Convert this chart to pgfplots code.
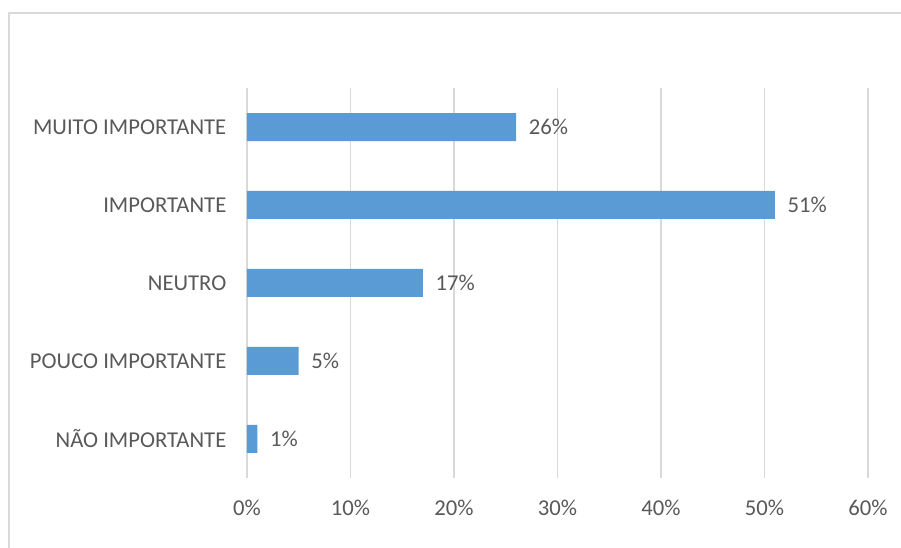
\documentclass[border=0pt]{standalone}
\usepackage{pgfplots}
\pgfplotsset{compat=1.18}
\usepackage{fontspec}
\setmainfont{Carlito}
\definecolor{barblue}{HTML}{5B9BD5}
\definecolor{gridgray}{HTML}{D9D9D9}
\definecolor{textgray}{HTML}{595959}
\definecolor{framegray}{HTML}{D9D9D9}
\begin{document}
\begin{tikzpicture}
  % canvas (1 px = 0.75pt) and chart frame
  \useasboundingbox (0,0) rectangle (675.75pt,-411pt);
  \draw[framegray, line width=1.8pt] (6.75pt,-420pt) -- (6.75pt,-9.75pt) -- (685pt,-9.75pt);
  \begin{axis}[
    at={(185.25pt,-358.5pt)}, anchor=south west,
    scale only axis,
    width=465.75pt, height=292.5pt,
    xbar, bar width=21pt,
    xmin=0, xmax=60,
    ymin=-0.5, ymax=4.5,
    xtick={0,10,...,60},
    xticklabel={\pgfmathprintnumber{\tick}\%},
    ytick={0,1,2,3,4},
    yticklabels={NÃO IMPORTANTE, POUCO IMPORTANTE, NEUTRO, IMPORTANTE, MUITO IMPORTANTE},
    axis line style={draw=none},
    major tick length=0pt,
    xmajorgrids, grid style={gridgray, line width=0.9pt},
    ymajorgrids=false,
    /pgf/number format/assume math mode=true,
    tick label style={font=\fontsize{17}{20}\selectfont, text=textgray},
    yticklabel style={xshift=-12pt},
    xticklabel style={yshift=-13pt},
    nodes near coords={\pgfmathprintnumber{\pgfplotspointmeta}\%},
    nodes near coords style={font=\fontsize{17}{20}\selectfont, text=textgray, anchor=west, xshift=6pt},
    point meta=x,
    clip=false,
  ]
    \addplot[fill=barblue, draw=none] coordinates {
      (1,0) (5,1) (17,2) (51,3) (26,4)
    };
  \end{axis}
\end{tikzpicture}
\end{document}
